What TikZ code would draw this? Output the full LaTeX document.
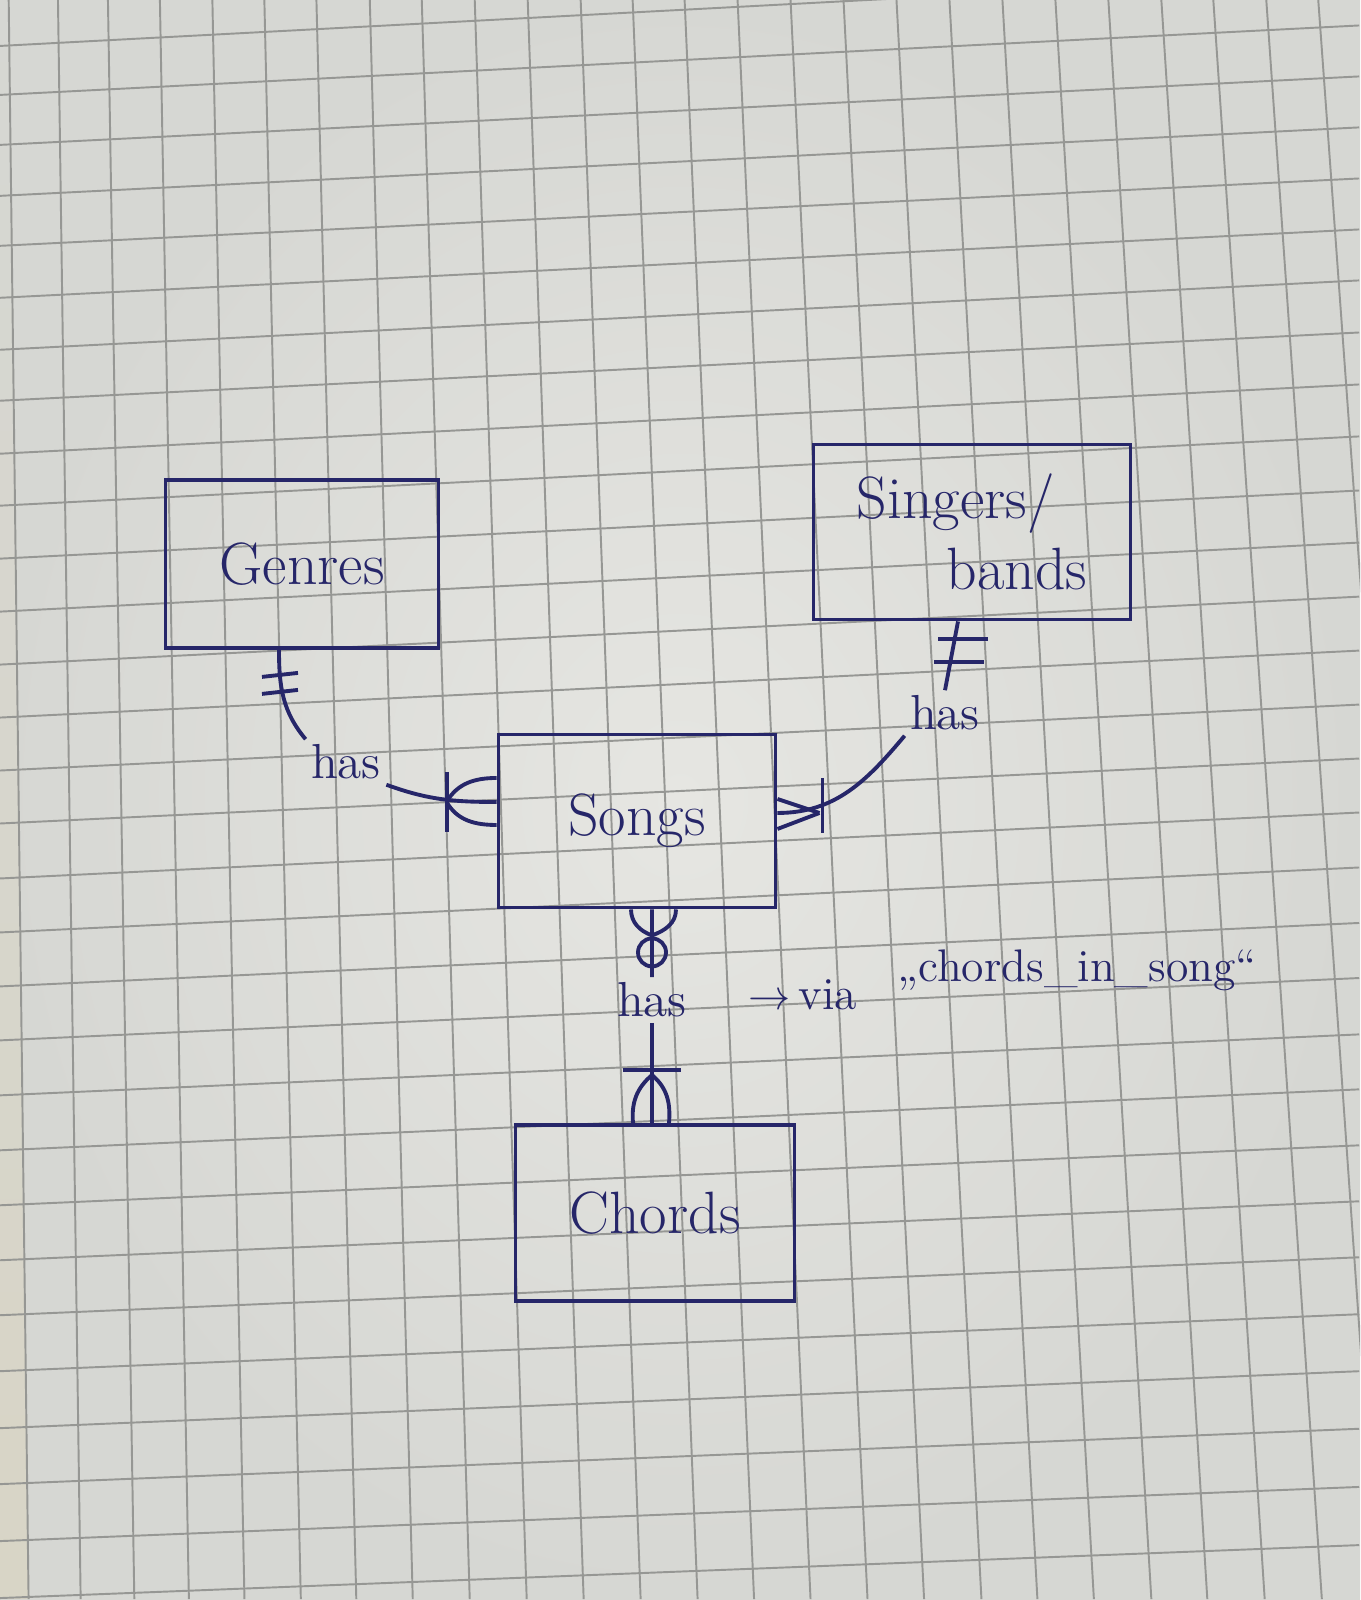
\documentclass[tikz,border=0pt]{standalone}
\usepackage{tikz}
\usetikzlibrary{calc}
\definecolor{paper}{RGB}{230,230,226}
\definecolor{paperdark}{RGB}{214,215,211}
\definecolor{paperedge}{RGB}{216,213,198}
\definecolor{gridgray}{RGB}{150,151,148}
\definecolor{ink}{RGB}{38,38,105}

\begin{document}
\begin{tikzpicture}[line width = 1.1pt,
  gridline/.style={gridgray, line width=0.55pt},
  entity/.style={draw=ink, text=ink, rectangle, inner sep=0pt, font=\fontsize{17}{20}\selectfont},
  relname/.style={text=ink, inner sep=1pt, font=\fontsize{14}{16}\selectfont},
  note/.style={text=ink, inner sep=1pt, font=\fontsize{13}{15}\selectfont}]

\shade[inner color=paper, outer color=paperdark] (0,0) rectangle (13.6,16);
\useasboundingbox (0,0) rectangle (13.6,16);
\begin{scope}
\clip (0,0) rectangle (13.6,16);
\begin{scope}[yshift=16cm, x=0.01cm, y=-0.01cm]
\shade[top color=paperdark, bottom color=paperedge] (0,0) -- (8.7,0) -- (28.6,1600) -- (0,1600) -- cycle;
\foreach \xt/\xb in {8.7/28.6, 58/80.7, 108/134.4, 160/189, 212.5/244.6, 264.5/301, 316.6/356.5,
  370/413, 422/470, 475/527, 528/584, 581/641, 633/698, 685/754.5, 738/811, 791/868, 844/924.6,
  897/982, 950/1038, 1003/1094.5, 1056/1152, 1109/1208, 1162/1265.4, 1214/1322.6, 1267/1379, 1319/1435}
  \draw[gridline] (\xt,0) -- (\xb,1600);
\foreach \yl/\yr in {46/-26, 95/25.5, 145/76.5, 196/127.5, 246/178.6, 298/229.6, 350/280.6, 401/332.7,
  454/384.7, 506/436.7, 559/490.8, 612/542.9, 665/597, 718/651, 771/705, 824/759, 879/813,
  933/868, 987/923.5, 1041/978.6, 1096/1035, 1151/1090, 1206/1146, 1261/1202, 1316/1258,
  1372/1315, 1429/1372, 1485/1429.6, 1542/1487.8, 1599/1546}
  \draw[gridline] (0,\yl) -- (1360,\yr);
\end{scope}
\end{scope}

\node[entity, minimum width=2.73cm, minimum height=1.68cm] (genres) at (3.02,10.36) {Genres};
\node[entity, minimum width=3.17cm, minimum height=1.75cm, align=left] (singers) at (9.72,10.68) {Singers/\\\hspace*{1.5em}bands};
\node[entity, minimum width=2.77cm, minimum height=1.73cm] (songs) at (6.37,7.79) {Songs};
\node[entity, minimum width=2.79cm, minimum height=1.76cm] (chords) at (6.55,3.87) {Chords};

\node[relname] (hasG) at (3.46,8.38) {has};
\node[relname] (hasS) at (9.45,8.87) {has};
\node[relname] (hasC) at (6.52,6.00) {has};
\node[note] (via) at (8.03,6.05) {$\rightarrow$\,via};
\node[note] (inSong) at (10.77,6.30) {„chords\_in\_song“};

% Genres -- Songs
\coordinate (gTop) at ([xshift=-0.23cm]genres.south);
\coordinate (gEnd) at ([yshift=0.19cm]songs.west);
\draw[ink] (gTop) to[out=-90,in=130] (hasG.north west);
\draw[ink] (hasG.south east) to[out=-20,in=180] (gEnd);
\draw[ink] ($(gTop)+(-0.17,-0.27)$) -- ++(0.36,0.04);
\draw[ink] ($(gTop)+(-0.17,-0.44)$) -- ++(0.36,0.04);
\draw[ink] ($(gEnd)+(-0.50,0.30)$) -- ++(0,-0.60);
\draw[ink] ($(gEnd)+(-0.50,0)$) to[out=60,in=180] ($(gEnd)+(0,0.24)$);
\draw[ink] ($(gEnd)+(-0.50,0)$) to[out=-60,in=180] ($(gEnd)+(0,-0.23)$);

% Singers/bands -- Songs
\coordinate (sTop) at ([xshift=-0.14cm]singers.south);
\coordinate (sEnd) at ([yshift=0.08cm]songs.east);
\draw[ink] (sTop) -- (hasS.north);
\draw[ink] (hasS.south west) to[out=-130,in=0] (sEnd);
\draw[ink] ($(sTop)+(-0.20,-0.18)$) -- ++(0.50,0);
\draw[ink] ($(sTop)+(-0.24,-0.41)$) -- ++(0.50,0);
\draw[ink] ($(sEnd)+(0.45,0.35)$) -- ++(0,-0.55);
\draw[ink] ($(sEnd)+(0.42,0)$) -- ($(sEnd)+(0,0.14)$);
\draw[ink] ($(sEnd)+(0.42,0)$) -- ($(sEnd)+(0,-0.16)$);

% Songs -- Chords
\coordinate (cTop) at ([xshift=0.15cm]songs.south);
\coordinate (cEnd) at ([xshift=-0.03cm]chords.north);
\draw[ink] (cTop) -- (hasC.north);
\draw[ink] (hasC.south) -- (cEnd);
\draw[ink] ($(cTop)+(0,-0.26)$) to[out=160,in=-90] ($(cTop)+(-0.21,0)$);
\draw[ink] ($(cTop)+(0,-0.26)$) to[out=20,in=-90] ($(cTop)+(0.24,0)$);
\draw[ink] ($(cTop)+(0,-0.43)$) circle[radius=0.14cm];
\draw[ink] ($(cEnd)+(-0.29,0.53)$) -- ++(0.58,0);
\draw[ink] ($(cEnd)+(0,0.48)$) to[out=-140,in=95] ($(cEnd)+(-0.19,0)$);
\draw[ink] ($(cEnd)+(0,0.48)$) to[out=-40,in=85] ($(cEnd)+(0.17,0)$);

\end{tikzpicture}
\end{document}
